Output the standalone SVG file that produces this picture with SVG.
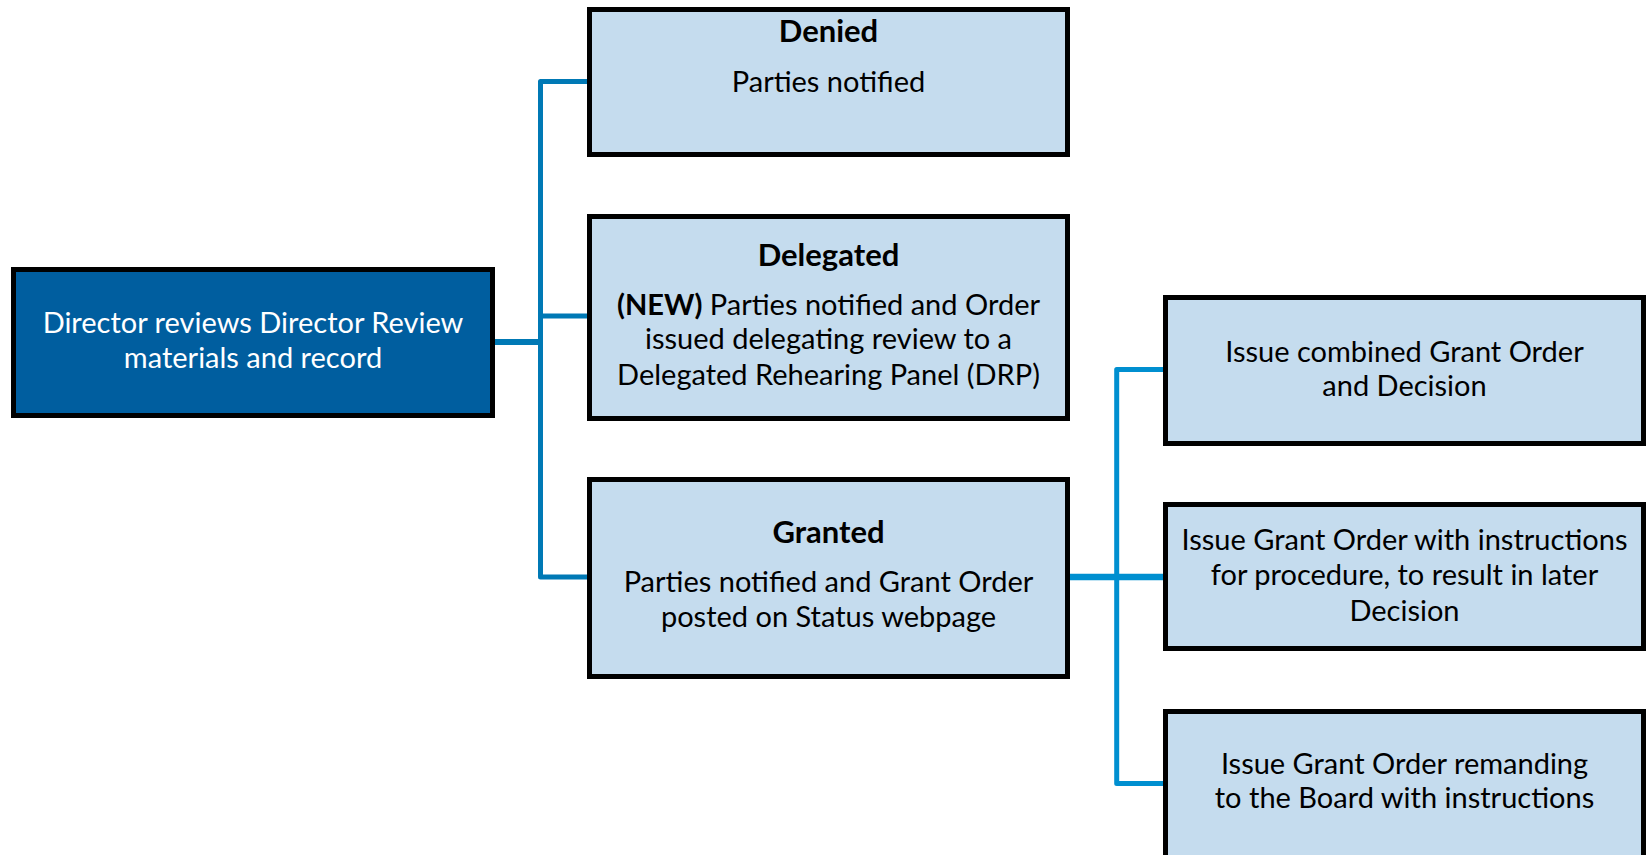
<svg xmlns="http://www.w3.org/2000/svg" width="1648" height="855" viewBox="0 0 1648 855">
<style>
.box{fill:#C5DCEE;stroke:#000;stroke-width:5}
.main{fill:#005E9F;stroke:#000;stroke-width:5}
.t{font-family:Lato,"Open Sans","Noto Sans",sans-serif;font-size:29px;fill:#000;text-anchor:middle}
.b{font-weight:bold}
.h{font-size:31px}
.w{fill:#fff}
.cl{fill:none;stroke:#0079B5;stroke-width:5;stroke-linejoin:round}
.cr{fill:none;stroke:#008FD0;stroke-width:5;stroke-linejoin:round}
</style>
<rect width="1648" height="855" fill="#fff"/>
<g id="connectors">
<path class="cl" d="M495 342 H541" style="stroke-width:6"/>
<path class="cl" d="M589 81.5 H540.5 V577 H589"/>
<path class="cl" d="M540.5 316 H589"/>
<path class="cr" d="M1070 577 H1165" style="stroke-width:6.5"/>
<path class="cr" d="M1165 369.5 H1116.7 V783.5 H1165"/>
</g>
<g id="director">
<rect class="main" x="13.5" y="269.5" width="479" height="146"/>
<text class="t w" x="253" y="333">Director reviews Director Review</text>
<text class="t w" x="253" y="368">materials and record</text>
</g>
<g id="denied">
<rect class="box" x="589.5" y="9.5" width="478" height="145"/>
<text class="t b h" x="828.5" y="42">Denied</text>
<text class="t" x="828.5" y="92">Parties notified</text>
</g>
<g id="delegated">
<rect class="box" x="589.5" y="216.5" width="478" height="202"/>
<text class="t b h" x="828.5" y="266">Delegated</text>
<text class="t" x="828.5" y="315"><tspan class="b">(NEW)</tspan> Parties notified and Order</text>
<text class="t" x="828.5" y="349">issued delegating review to a</text>
<text class="t" x="828.5" y="385">Delegated Rehearing Panel (DRP)</text>
</g>
<g id="granted">
<rect class="box" x="589.5" y="479.5" width="478" height="197"/>
<text class="t b h" x="828.5" y="543">Granted</text>
<text class="t" x="828.5" y="592">Parties notified and Grant Order</text>
<text class="t" x="828.5" y="627">posted on Status webpage</text>
</g>
<g id="combined">
<rect class="box" x="1165.5" y="297.5" width="478" height="146"/>
<text class="t" x="1404.5" y="362">Issue combined Grant Order</text>
<text class="t" x="1404.5" y="396">and Decision</text>
</g>
<g id="procedure">
<rect class="box" x="1165.5" y="504.5" width="478" height="144"/>
<text class="t" x="1404.5" y="550">Issue Grant Order with instructions</text>
<text class="t" x="1404.5" y="585">for procedure, to result in later</text>
<text class="t" x="1404.5" y="621">Decision</text>
</g>
<g id="remand">
<rect class="box" x="1165.5" y="711.5" width="478" height="160"/>
<text class="t" x="1404.5" y="774">Issue Grant Order remanding</text>
<text class="t" x="1404.5" y="808">to the Board with instructions</text>
</g>
</svg>
